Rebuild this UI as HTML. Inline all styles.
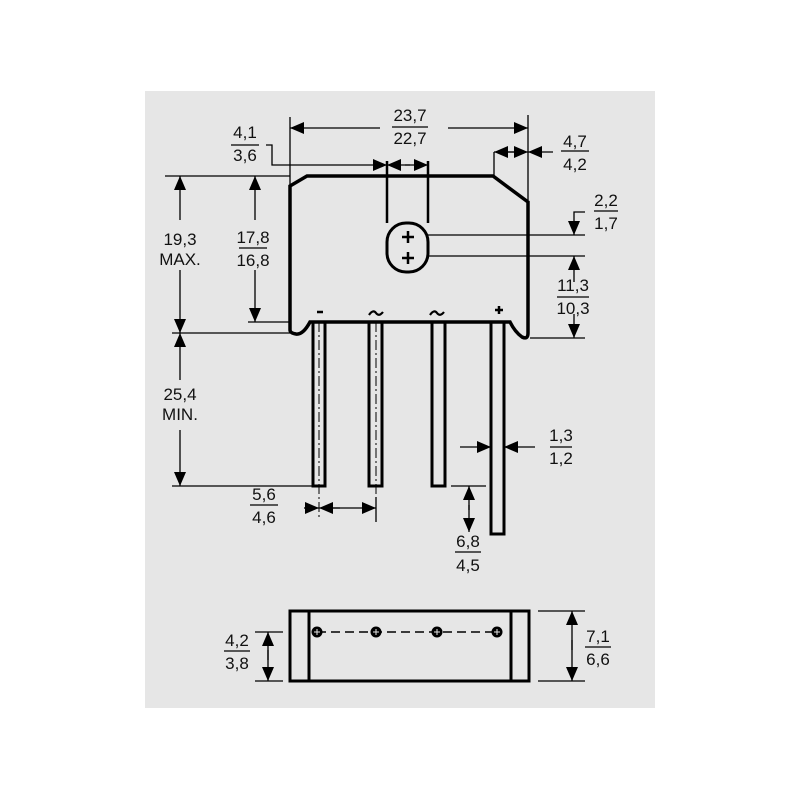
<!DOCTYPE html>
<html><head><meta charset="utf-8"><style>
body{margin:0;background:#fff}
svg{display:block}
text{font-family:"Liberation Sans",sans-serif;font-size:17px;fill:#111}
</style></head><body>
<svg width="800" height="800" viewBox="0 0 800 800">
<defs>
<marker id="a" viewBox="0 0 14 12" refX="14" refY="6" markerWidth="14" markerHeight="12" markerUnits="userSpaceOnUse" orient="auto"><path d="M0,0L14,6L0,12z" fill="#000"/></marker>
</defs>
<rect x="145" y="91" width="510" height="617" fill="#e6e6e6"/>
<g stroke="#000" fill="none">
<path d="M290,330 L290,186 L307,176 L493,176 L528,202 L528,333 Q528,340 522,337 Q515,332 510,322 L310,322 Q303,335 296,334 Q290,333 290,330" stroke-width="3.5"/>
<rect x="387" y="223" width="41" height="49" rx="19" stroke-width="3"/>
<path d="M408,231v12M402,237h12M408,252v12M402,258h12" stroke-width="2.5"/>
<path d="M387,161V223M428,161V223" stroke-width="2.5"/>
<g stroke-width="3">
<rect x="313" y="322" width="12" height="164"/>
<rect x="369" y="322" width="13" height="164"/>
<rect x="432" y="322" width="13" height="164"/>
<rect x="491" y="322" width="13" height="212"/>
</g>
<path d="M319,322V520M376,322V520" stroke-width="1" stroke-dasharray="10,3,2,3"/>
<path d="M317,312h6M495,310h8M499,306v8" stroke-width="2.5"/>
<path d="M369,315q4,-6 7,-2t7,-1M430,315q4,-6 7,-2t7,-1" stroke-width="2.2"/>
<g stroke-width="1.3">
<path d="M290,117V186M528,115V200"/>
<path d="M380,128H290" marker-end="url(#a)"/>
<path d="M448,128H528" marker-end="url(#a)"/>
<path d="M266,145H272V165H387" marker-end="url(#a)"/>
<path d="M410,165H387" marker-end="url(#a)"/>
<path d="M405,165H428" marker-end="url(#a)"/>
<path d="M494,152V176"/>
<path d="M515,152H494" marker-end="url(#a)"/>
<path d="M505,152H528" marker-end="url(#a)"/>
<path d="M553,152H528" marker-end="url(#a)"/>
<path d="M428,235H585M428,256H585M530,338H585"/>
<path d="M585,212H574V235" marker-end="url(#a)"/>
<path d="M574,282V256" marker-end="url(#a)"/>
<path d="M574,314V338" marker-end="url(#a)"/>
<path d="M165,176H290M248,322H290M172,333H290M172,486H312"/>
<path d="M180,220V176" marker-end="url(#a)"/>
<path d="M180,270V333" marker-end="url(#a)"/>
<path d="M180,380V333" marker-end="url(#a)"/>
<path d="M180,430V486" marker-end="url(#a)"/>
<path d="M255,220V176" marker-end="url(#a)"/>
<path d="M255,270V322" marker-end="url(#a)"/>
<path d="M460,447H491" marker-end="url(#a)"/>
<path d="M535,447H504" marker-end="url(#a)"/>
<path d="M451,486H486"/>
<path d="M469,510V486" marker-end="url(#a)"/>
<path d="M469,505V532" marker-end="url(#a)"/>
<path d="M304,508H319" marker-end="url(#a)"/>
<path d="M340,508H319" marker-end="url(#a)"/>
<path d="M330,508H376" marker-end="url(#a)"/>
<path d="M376,497V522"/>
</g>
<rect x="290" y="611" width="239" height="70" stroke-width="3"/>
<path d="M309,611V681M511,611V681" stroke-width="3"/>
<path d="M317,632H496" stroke-width="1.5" stroke-dasharray="9,5"/>
<g stroke-width="1.3">
<path d="M255,632H283M255,681H283M538,611H585M538,681H585"/>
<path d="M268,660V632" marker-end="url(#a)"/>
<path d="M268,650V681" marker-end="url(#a)"/>
<path d="M572,650V611" marker-end="url(#a)"/>
<path d="M572,640V681" marker-end="url(#a)"/>
</g>
</g>
<g fill="#000">
<circle cx="317" cy="632" r="5.5"/><circle cx="376" cy="632" r="5.5"/><circle cx="437" cy="632" r="5.5"/><circle cx="497" cy="632" r="5.5"/>
</g>
<g stroke="#e6e6e6" stroke-width="1">
<path d="M314,632h6M317,629v6M373,632h6M376,629v6M434,632h6M437,629v6M494,632h6M497,629v6"/>
</g>
<g text-anchor="middle" stroke="none">
<text x="410" y="121">23,7</text><text x="410" y="144">22,7</text>
<text x="245" y="138">4,1</text><text x="245" y="161">3,6</text>
<text x="575" y="147">4,7</text><text x="575" y="170">4,2</text>
<text x="606" y="206">2,2</text><text x="606" y="229">1,7</text>
<text x="573" y="291">11,3</text><text x="573" y="314">10,3</text>
<text x="180" y="245">19,3</text><text x="180" y="265">MAX.</text>
<text x="253" y="243">17,8</text><text x="253" y="266">16,8</text>
<text x="180" y="400">25,4</text><text x="180" y="420">MIN.</text>
<text x="561" y="441">1,3</text><text x="561" y="464">1,2</text>
<text x="264" y="500">5,6</text><text x="264" y="523">4,6</text>
<text x="468" y="547">6,8</text><text x="468" y="571">4,5</text>
<text x="237" y="646">4,2</text><text x="237" y="669">3,8</text>
<text x="598" y="642">7,1</text><text x="598" y="665">6,6</text>
</g>
<g stroke="#000" stroke-width="1.3">
<path d="M392,127H428M231,145H259M561,151H589M594,211H618M557,297H589M239,248H267M550,447H572M250,505H278M455,552H481M224,651H250M585,647H611"/>
</g>
</svg>
</body></html>
